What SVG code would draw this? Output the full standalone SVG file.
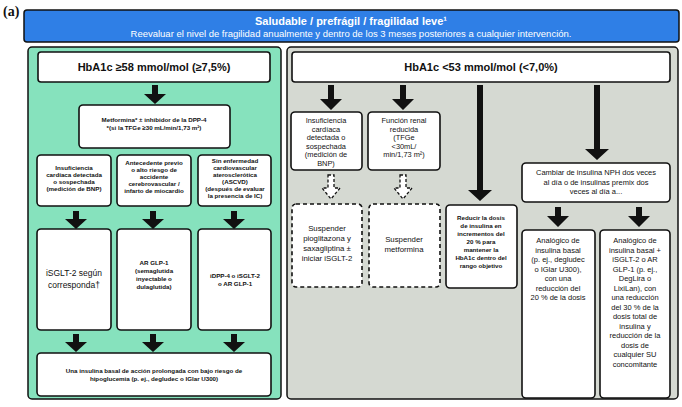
<svg xmlns="http://www.w3.org/2000/svg" width="682" height="407" viewBox="0 0 682 407">
<style>
.t{font-family:"Liberation Sans",Arial,sans-serif;fill:#111;text-anchor:middle}
.b{font-weight:bold}
.box{fill:#fff;stroke:#111;stroke-width:1.6}
.dbox{fill:#fff;stroke:#111;stroke-width:1.6;stroke-dasharray:4 3}
.ar{fill:#111}
.dar{fill:#fff;stroke:#111;stroke-width:1.3;stroke-dasharray:3 2}
</style>
<rect width="682" height="407" fill="#fff"/>
<text x="3" y="16" style="font-family:'Liberation Serif',serif;font-weight:bold;font-size:14px" fill="#111">(a)</text>
<g id="header">
<rect x="24" y="10" width="655" height="32" rx="3" fill="#2f7fe6" stroke="#111" stroke-width="1.5"/>
<text class="t b" x="351" y="25" style="font-size:11px;fill:#fff">Saludable / prefrágil / fragilidad leve¹</text>
<text class="t" x="351" y="37" style="font-size:9.5px;fill:#fff">Reevaluar el nivel de fragilidad anualmente y dentro de los 3 meses posteriores a cualquier intervención.</text>
</g>
<g id="leftPanel"><rect x="28" y="47" width="253" height="352" rx="4" fill="#86e2bd" stroke="#111" stroke-width="1.5"/></g>
<g id="rightPanel"><rect x="287" y="47" width="391" height="352" rx="4" fill="#d5d9d2" stroke="#111" stroke-width="1.5"/></g>
<g id="connectors">
<path class="ar" d="M152 85h6v9h8l-11 10l-11-10h8z"/>
<path class="ar" d="M73 211h6v8h8l-11 10l-11-10h8z"/>
<path class="ar" d="M150 211h6v8h8l-11 10l-11-10h8z"/>
<path class="ar" d="M231 211h6v8h8l-11 10l-11-10h8z"/>
<path class="ar" d="M73 334h6v8h8l-11 10l-11-10h8z"/>
<path class="ar" d="M150 334h6v8h8l-11 10l-11-10h8z"/>
<path class="ar" d="M231 334h6v8h8l-11 10l-11-10h8z"/>
<path class="ar" d="M328 85h6v14h8l-11 11l-11-11h8z"/>
<path class="ar" d="M400 85h6v14h8l-11 11l-11-11h8z"/>
<path class="dar" d="M328 175h6v13h6l-9 11l-9-11h6z"/>
<path class="dar" d="M400 175h6v13h6l-9 11l-9-11h6z"/>
<path class="ar" d="M477 85h6v105h9l-12 11l-12-11h9z"/>
<path class="ar" d="M594 85h6v64h9l-12 11l-12-11h9z"/>
<path class="ar" d="M555 207h6v9h8l-11 11l-11-11h8z"/>
<path class="ar" d="M636 207h6v9h8l-11 11l-11-11h8z"/>
</g>
<g id="lhead"><rect class="box" x="38" y="52" width="232" height="30" rx="3"/><text class="t b" x="154" y="71" style="font-size:11px">HbA1c ≥58 mmol/mol (≥7,5%)</text></g>
<g id="metformina"><rect class="box" x="79" y="105" width="151" height="43" rx="4"/>
<text class="t b" x="154" y="122" style="font-size:6.2px">Metformina* ± inhibidor de la DPP-4</text>
<text class="t b" x="154" y="130" style="font-size:6.2px">*(si la TFGe ≥30 mL/min/1,73 m²)</text></g>
<g id="l1"><rect class="box" x="37" y="155" width="74" height="51" rx="4"/>
<text class="t b" x="74" y="170" style="font-size:6.2px"><tspan x="74">Insuficiencia</tspan><tspan x="74" dy="7">cardíaca detectada</tspan><tspan x="74" dy="7">o sospechada</tspan><tspan x="74" dy="7">(medición de BNP)</tspan></text></g>
<g id="l2"><rect class="box" x="117" y="155" width="74" height="51" rx="4"/>
<text class="t b" x="154" y="165" style="font-size:6.2px"><tspan x="154">Antecedente previo</tspan><tspan x="154" dy="7">o alto riesgo de</tspan><tspan x="154" dy="7">accidente</tspan><tspan x="154" dy="7">cerebrovascular /</tspan><tspan x="154" dy="7">infarto de miocardio</tspan></text></g>
<g id="l3"><rect class="box" x="198" y="155" width="73" height="51" rx="4"/>
<text class="t b" x="235" y="163" style="font-size:6.2px"><tspan x="235">Sin enfermedad</tspan><tspan x="235" dy="7">cardiovascular</tspan><tspan x="235" dy="7">aterosclerótica</tspan><tspan x="235" dy="7">(ASCVD)</tspan><tspan x="235" dy="7">(después de evaluar</tspan><tspan x="235" dy="7">la presencia de IC)</tspan></text></g>
<g id="l4"><rect class="box" x="37" y="229" width="74" height="101" rx="4"/>
<text class="t" x="74" y="276" style="font-size:8.5px"><tspan x="74">iSGLT-2 según</tspan><tspan x="74" dy="12">corresponda†</tspan></text></g>
<g id="l5"><rect class="box" x="117" y="229" width="74" height="101" rx="4"/>
<text class="t b" x="154" y="265" style="font-size:6.2px"><tspan x="154">AR GLP-1</tspan><tspan x="154" dy="8">(semaglutida</tspan><tspan x="154" dy="8">inyectable o</tspan><tspan x="154" dy="8">dulaglutida)</tspan></text></g>
<g id="l6"><rect class="box" x="198" y="229" width="73" height="101" rx="4"/>
<text class="t b" x="235" y="278" style="font-size:6.2px"><tspan x="235">iDPP-4 o iSGLT-2</tspan><tspan x="235" dy="8">o AR GLP-1</tspan></text></g>
<g id="l7"><rect class="box" x="37" y="353" width="234" height="43" rx="4"/>
<text class="t b" x="154" y="373" style="font-size:6.2px"><tspan x="154">Una insulina basal de acción prolongada con bajo riesgo de</tspan><tspan x="154" dy="8">hipoglucemia (p. ej., degludec o IGlar U300)</tspan></text></g>
<g id="rhead"><rect class="box" x="292" y="52" width="378" height="30" rx="3"/><text class="t b" x="481" y="71" style="font-size:11px">HbA1c &lt;53 mmol/mol (&lt;7,0%)</text></g>
<g id="r1"><rect class="box" x="291" y="112" width="71" height="58" rx="4"/>
<text class="t" x="326" y="123" style="font-size:7.4px"><tspan x="326">Insuficiencia</tspan><tspan x="326" dy="8.5">cardíaca</tspan><tspan x="326" dy="8.5">detectada o</tspan><tspan x="326" dy="8.5">sospechada</tspan><tspan x="326" dy="8.5">(medición de</tspan><tspan x="326" dy="8.5">BNP)</tspan></text></g>
<g id="r2"><rect class="box" x="368" y="112" width="72" height="58" rx="4"/>
<text class="t" x="404" y="123" style="font-size:7.4px"><tspan x="404">Función renal</tspan><tspan x="404" dy="8.5">reducida</tspan><tspan x="404" dy="8.5">(TFGe</tspan><tspan x="404" dy="8.5">&lt;30mL/</tspan><tspan x="404" dy="8.5">min/1,73 m²)</tspan></text></g>
<g id="r3"><rect class="dbox" x="292" y="204" width="70" height="83" rx="4"/>
<text class="t" x="327" y="231" style="font-size:7.8px"><tspan x="327">Suspender</tspan><tspan x="327" dy="10">pioglitazona y</tspan><tspan x="327" dy="10">saxagliptina ±</tspan><tspan x="327" dy="10">iniciar iSGLT-2</tspan></text></g>
<g id="r4"><rect class="dbox" x="369" y="204" width="71" height="83" rx="4"/>
<text class="t" x="404" y="242" style="font-size:7.8px"><tspan x="404">Suspender</tspan><tspan x="404" dy="10">metformina</tspan></text></g>
<g id="r5"><rect class="box" x="446" y="205" width="71" height="83" rx="4"/>
<text class="t b" x="481" y="220" style="font-size:6.2px"><tspan x="481">Reducir la dosis</tspan><tspan x="481" dy="8">de insulina en</tspan><tspan x="481" dy="8">incrementos del</tspan><tspan x="481" dy="8">20 % para</tspan><tspan x="481" dy="8">mantener la</tspan><tspan x="481" dy="8">HbA1c dentro del</tspan><tspan x="481" dy="8">rango objetivo</tspan></text></g>
<g id="r6"><rect class="box" x="522" y="163" width="148" height="39" rx="4"/>
<text class="t" x="596" y="175" style="font-size:7.5px"><tspan x="596">Cambiar de insulina NPH dos veces</tspan><tspan x="596" dy="9.5">al día o de insulinas premix dos</tspan><tspan x="596" dy="9.5">veces al día a...</tspan></text></g>
<g id="r7"><rect class="box" x="522" y="230" width="73" height="168" rx="4"/>
<text class="t" x="558" y="243" style="font-size:7.5px"><tspan x="558">Analógico de</tspan><tspan x="558" dy="9.5">insulina basal</tspan><tspan x="558" dy="9.5">(p. ej., degludec</tspan><tspan x="558" dy="9.5">o IGlar U300),</tspan><tspan x="558" dy="9.5">con una</tspan><tspan x="558" dy="9.5">reducción del</tspan><tspan x="558" dy="9.5">20 % de la dosis</tspan></text></g>
<g id="r8"><rect class="box" x="600" y="230" width="70" height="168" rx="4"/>
<text class="t" x="635" y="243" style="font-size:7.5px"><tspan x="635">Analógico de</tspan><tspan x="635" dy="9.5">insulina basal +</tspan><tspan x="635" dy="9.5">iSGLT-2 o AR</tspan><tspan x="635" dy="9.5">GLP-1 (p. ej.,</tspan><tspan x="635" dy="9.5">DegLira o</tspan><tspan x="635" dy="9.5">LixiLan), con</tspan><tspan x="635" dy="9.5">una reducción</tspan><tspan x="635" dy="9.5">del 30 % de la</tspan><tspan x="635" dy="9.5">dosis total de</tspan><tspan x="635" dy="9.5">insulina y</tspan><tspan x="635" dy="9.5">reducción de la</tspan><tspan x="635" dy="9.5">dosis de</tspan><tspan x="635" dy="9.5">cualquier SU</tspan><tspan x="635" dy="9.5">concomitante</tspan></text></g>
</svg>
